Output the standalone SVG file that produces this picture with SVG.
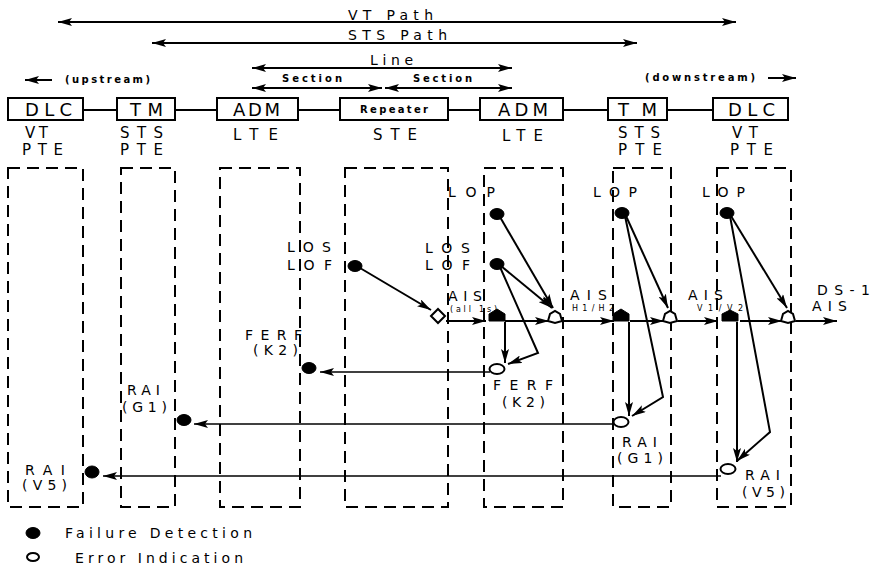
<svg xmlns="http://www.w3.org/2000/svg" width="874" height="568" viewBox="0 0 874 568">
<style>
text{font-family:"DejaVu Sans","Liberation Sans",Arial,sans-serif;fill:#000}
.t14{font-size:14px}
.t15{font-size:15px}
.t16{font-size:18px}
.t10{font-size:10px;font-weight:bold}
.t8{font-size:8px}
.box{fill:#fff;stroke:#000;stroke-width:2}
.col{fill:none;stroke:#000;stroke-width:2;stroke-dasharray:12 7}
.ln{fill:none;stroke:#000;stroke-width:2}
.arr{fill:none;stroke:#000;stroke-width:2;marker-end:url(#ah)}
.arr2{fill:none;stroke:#000;stroke-width:2;marker-start:url(#ah);marker-end:url(#ah)}
.up{fill:none;stroke:#000;stroke-width:1.5;marker-end:url(#ah)}
.fd{fill:#000;stroke:#000;stroke-width:1}
.ei{fill:#fff;stroke:#000;stroke-width:2}
</style>
<defs>
<marker id="ah" viewBox="0 0 14 8" refX="14" refY="4" markerWidth="14" markerHeight="8" orient="auto-start-reverse" markerUnits="userSpaceOnUse"><path d="M0,0 L14,4 L0,8 L3,4 z" fill="#000"/></marker>
</defs>

<g id="scope-labels">
<text class="t14" x="348" y="20" textLength="85" lengthAdjust="spacing">VT Path</text>
<text class="t14" x="348" y="40" textLength="99" lengthAdjust="spacing">STS Path</text>
<text class="t14" x="370" y="65" textLength="43" lengthAdjust="spacing">Line</text>
<text class="t10" x="282" y="82" textLength="60" lengthAdjust="spacing">Section</text>
<text class="t10" x="413" y="82" textLength="59" lengthAdjust="spacing">Section</text>
<text class="t10" x="65" y="83" textLength="85" lengthAdjust="spacing">(upstream)</text>
<text class="t10" x="645" y="81" textLength="110" lengthAdjust="spacing">(downstream)</text>
</g>

<g id="connectors">
<line class="arr2" x1="58" y1="22" x2="736" y2="22"/>
<line class="arr2" x1="152" y1="43" x2="637" y2="43"/>
<line class="arr2" x1="252" y1="68" x2="512" y2="68"/>
<line class="arr2" x1="252" y1="88" x2="382" y2="88"/>
<line class="arr2" x1="385" y1="88" x2="512" y2="88"/>
<line class="arr" x1="52" y1="80" x2="25" y2="80"/>
<line class="arr" x1="768" y1="78" x2="796" y2="78"/>
<line class="ln" x1="83" y1="110" x2="117" y2="110"/>
<line class="ln" x1="175" y1="110" x2="217" y2="110"/>
<line class="ln" x1="298" y1="110" x2="340" y2="110"/>
<line class="ln" x1="448" y1="110" x2="480" y2="110"/>
<line class="ln" x1="563" y1="110" x2="608" y2="110"/>
<line class="ln" x1="667" y1="110" x2="713" y2="110"/>

<line class="arr" x1="446" y1="321" x2="486" y2="321"/>
<line class="arr" x1="505" y1="321" x2="549" y2="321"/>
<line class="arr" x1="563" y1="321" x2="614" y2="321"/>
<line class="arr" x1="630" y1="321" x2="664" y2="321"/>
<line class="arr" x1="678" y1="321" x2="718" y2="321"/>
<line class="arr" x1="740" y1="321" x2="782" y2="321"/>
<line class="arr" x1="796" y1="321" x2="837" y2="321"/>

<line class="arr" x1="505" y1="322" x2="505" y2="363"/>
<line class="arr" x1="629" y1="322" x2="629" y2="416"/>
<line class="arr" x1="737" y1="322" x2="737" y2="462"/>

<line class="arr" x1="360" y1="268" x2="431" y2="310"/>
<line class="arr" x1="500" y1="217" x2="553" y2="308"/>
<line class="arr" x1="501" y1="266" x2="552" y2="308"/>
<polyline class="arr" points="500,267 538,353 508,364"/>
<line class="arr" x1="626" y1="216" x2="668" y2="308"/>
<polyline class="arr" points="625,216 663,397 632,416"/>
<line class="arr" x1="731" y1="216" x2="787" y2="308"/>
<polyline class="arr" points="730,216 770,432 737,461"/>

<line class="up" x1="490" y1="372" x2="320" y2="372"/>
<line class="up" x1="614" y1="424" x2="194" y2="424"/>
<line class="up" x1="721" y1="476" x2="103" y2="476"/>
</g>

<g id="node-dlc-up">
<rect class="box" x="8" y="98" width="75" height="22"/>
<text class="t16" x="25" y="116" textLength="47" lengthAdjust="spacing">DLC</text>
<text class="t15" x="25" y="138" textLength="23" lengthAdjust="spacing">VT</text>
<text class="t15" x="22" y="155" textLength="41" lengthAdjust="spacing">PTE</text>
<rect class="col" x="8" y="168" width="75" height="339"/>
</g>
<g id="node-tm-up">
<rect class="box" x="117" y="98" width="58" height="22"/>
<text class="t16" x="130" y="116" textLength="33" lengthAdjust="spacing">TM</text>
<text class="t15" x="120" y="138" textLength="43" lengthAdjust="spacing">STS</text>
<text class="t15" x="120" y="155" textLength="43" lengthAdjust="spacing">PTE</text>
<rect class="col" x="121" y="168" width="54" height="339"/>
</g>
<g id="node-adm-up">
<rect class="box" x="217" y="98" width="81" height="22"/>
<text class="t16" x="233" y="116" textLength="47" lengthAdjust="spacing">ADM</text>
<text class="t15" x="233" y="140" textLength="45" lengthAdjust="spacing">LTE</text>
<rect class="col" x="220" y="168" width="80" height="339"/>
</g>
<g id="node-repeater">
<rect class="box" x="340" y="98" width="108" height="22"/>
<text class="t10" x="360" y="113" textLength="68" lengthAdjust="spacing">Repeater</text>
<text class="t15" x="373" y="140" textLength="44" lengthAdjust="spacing">STE</text>
<rect class="col" x="345" y="168" width="103" height="339"/>
</g>
<g id="node-adm-down">
<rect class="box" x="480" y="98" width="83" height="22"/>
<text class="t16" x="498" y="116" textLength="50" lengthAdjust="spacing">ADM</text>
<text class="t15" x="502" y="141" textLength="41" lengthAdjust="spacing">LTE</text>
<rect class="col" x="484" y="168" width="79" height="339"/>
</g>
<g id="node-tm-down">
<rect class="box" x="608" y="98" width="59" height="22"/>
<text class="t16" x="618" y="116" textLength="39" lengthAdjust="spacing">TM</text>
<text class="t15" x="618" y="138" textLength="42" lengthAdjust="spacing">STS</text>
<text class="t15" x="618" y="155" textLength="44" lengthAdjust="spacing">PTE</text>
<rect class="col" x="613" y="168" width="58" height="339"/>
</g>
<g id="node-dlc-down">
<rect class="box" x="713" y="98" width="75" height="22"/>
<text class="t16" x="728" y="116" textLength="47" lengthAdjust="spacing">DLC</text>
<text class="t15" x="732" y="138" textLength="26" lengthAdjust="spacing">VT</text>
<text class="t15" x="730" y="155" textLength="43" lengthAdjust="spacing">PTE</text>
<rect class="col" x="717" y="168" width="74" height="339"/>
</g>

<g id="markers">
<ellipse class="fd" cx="355" cy="266" rx="7" ry="5.5"/>
<ellipse class="fd" cx="497" cy="214" rx="7" ry="5.5"/>
<ellipse class="fd" cx="497" cy="264" rx="7" ry="5.5"/>
<ellipse class="fd" cx="622" cy="213" rx="7" ry="5.5"/>
<ellipse class="fd" cx="727" cy="213" rx="7" ry="5.5"/>
<ellipse class="fd" cx="309" cy="368" rx="7" ry="5.5"/>
<ellipse class="fd" cx="184" cy="420" rx="7" ry="5.5"/>
<ellipse class="fd" cx="92" cy="472" rx="7" ry="6"/>
<polygon class="ei" points="431,316 438,309 445,316 438,323"/>
<polygon class="fd" points="489,321 489,314 497,309 505,314 505,321"/>
<polygon class="ei" points="548,321 550,314 555,311 560,314 562,321 555,323"/>
<polygon class="fd" points="613,321 613,314 621,309 629,314 629,321"/>
<polygon class="ei" points="663,321 665,314 670,311 675,314 677,321 670,323"/>
<polygon class="fd" points="722,321 722,314 730,310 738,314 738,321"/>
<polygon class="ei" points="781,321 783,314 788,311 793,314 795,321 788,323"/>
<ellipse class="ei" cx="497" cy="369" rx="7.5" ry="5"/>
<ellipse class="ei" cx="621" cy="422" rx="7.5" ry="5"/>
<ellipse class="ei" cx="728" cy="469" rx="7.5" ry="5"/>
</g>

<g id="signal-labels">
<text class="t14" x="287" y="252" textLength="44" lengthAdjust="spacing">LOS</text>
<text class="t14" x="287" y="270" textLength="45" lengthAdjust="spacing">LOF</text>
<text class="t14" x="425" y="253" textLength="45" lengthAdjust="spacing">LOS</text>
<text class="t14" x="425" y="270" textLength="45" lengthAdjust="spacing">LOF</text>
<text class="t14" x="448" y="197" textLength="47" lengthAdjust="spacing">LOP</text>
<text class="t14" x="593" y="197" textLength="44" lengthAdjust="spacing">LOP</text>
<text class="t14" x="702" y="197" textLength="43" lengthAdjust="spacing">LOP</text>
<text class="t14" x="448" y="301" textLength="34" lengthAdjust="spacing">AIS</text>
<text class="t8" x="450" y="312" textLength="47" lengthAdjust="spacing">(all 1s)</text>
<text class="t14" x="570" y="300" textLength="37" lengthAdjust="spacing">AIS</text>
<text class="t8" x="572" y="311" textLength="42" lengthAdjust="spacing">H1/H2</text>
<text class="t14" x="688" y="300" textLength="35" lengthAdjust="spacing">AIS</text>
<text class="t8" x="697" y="311" textLength="46" lengthAdjust="spacing">V1/V2</text>
<text class="t14" x="817" y="295" textLength="53" lengthAdjust="spacing">DS-1</text>
<text class="t14" x="812" y="311" textLength="35" lengthAdjust="spacing">AIS</text>
<text class="t14" x="245" y="340" textLength="57" lengthAdjust="spacing">FERF</text>
<text class="t14" x="253" y="355" textLength="45" lengthAdjust="spacing">(K2)</text>
<text class="t14" x="493" y="390" textLength="60" lengthAdjust="spacing">FERF</text>
<text class="t14" x="502" y="407" textLength="43" lengthAdjust="spacing">(K2)</text>
<text class="t14" x="127" y="395" textLength="33" lengthAdjust="spacing">RAI</text>
<text class="t14" x="122" y="412" textLength="45" lengthAdjust="spacing">(G1)</text>
<text class="t14" x="622" y="447" textLength="35" lengthAdjust="spacing">RAI</text>
<text class="t14" x="617" y="463" textLength="46" lengthAdjust="spacing">(G1)</text>
<text class="t14" x="25" y="475" textLength="40" lengthAdjust="spacing">RAI</text>
<text class="t14" x="22" y="490" textLength="45" lengthAdjust="spacing">(V5)</text>
<text class="t14" x="745" y="480" textLength="35" lengthAdjust="spacing">RAI</text>
<text class="t14" x="742" y="497" textLength="43" lengthAdjust="spacing">(V5)</text>
</g>

<g id="legend">
<ellipse class="fd" cx="33" cy="533" rx="7" ry="5.5"/>
<text class="t14" x="65" y="538" textLength="187" lengthAdjust="spacing">Failure Detection</text>
<ellipse class="ei" cx="33" cy="557" rx="6" ry="4"/>
<text class="t14" x="75" y="563" textLength="168" lengthAdjust="spacing">Error Indication</text>
</g>
</svg>
